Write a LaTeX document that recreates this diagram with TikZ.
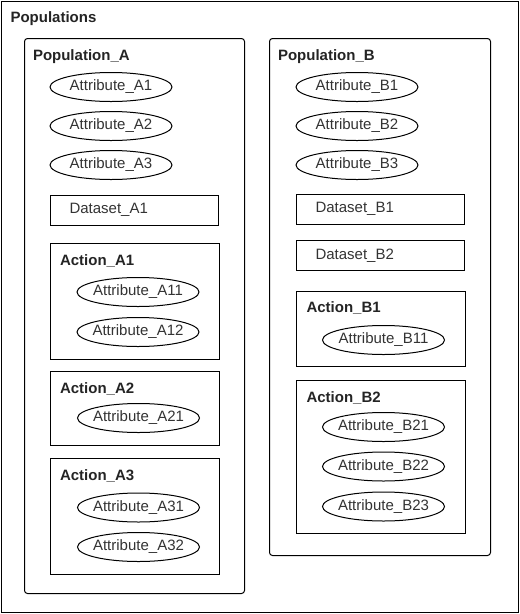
\documentclass[tikz,border=0pt]{standalone}
\usepackage{fontspec}
\setmainfont{Liberation Sans}
\usetikzlibrary{shapes.geometric, positioning}

\definecolor{txtgray}{HTML}{333333}

\begin{document}
\begin{tikzpicture}[x=1pt,y=-1pt,line width=1pt,
  font=\fontsize{15}{18}\selectfont,
  frame/.style={draw, anchor=north west, inner sep=0pt},
  group/.style={frame, rounded corners=3pt},
  actionbox/.style={frame, minimum width=169pt},
  title/.style={anchor=base west, inner sep=0pt, text=txtgray!70!black, font=\fontsize{15}{18}\selectfont\bfseries},
  attr/.style={draw, ellipse, minimum width=122pt, minimum height=29pt, inner xsep=-12pt, inner ysep=0pt, text=txtgray},
  dataset/.style={frame, minimum height=30pt, inner xsep=19pt, text width=130pt, align=left, text=txtgray}]
\useasboundingbox (0,0) rectangle (520,614);

% outer frame
\node[frame, minimum width=517pt, minimum height=611pt] (pops) at (1,1) {};
\node[title] (popsT) at (10,22.5) {Populations};

% Population A
\node[group, minimum width=220pt, minimum height=555pt] (popA) at (24,38) {};
\node[title] (popAT) at (32.5,60) {Population\_A};
\foreach \i/\y in {1/87,2/126,3/165}
  \node[attr] (attrA\i) at (111,\y) {Attribute\_A\i};
\node[dataset, minimum width=168pt] (dsA1) at (50,194.5) {Dataset\_A1};

\node[actionbox, minimum height=115.5pt] (actA1) at (50,243) {};
\node[title] (actA1T) at (59.5,265) {Action\_A1};
\node[attr] (attrA11) at (138,292) {Attribute\_A11};
\node[attr] (attrA12) at (138,332) {Attribute\_A12};

\node[actionbox, minimum height=74pt] (actA2) at (50,371) {};
\node[title] (actA2T) at (59.5,393) {Action\_A2};
\node[attr] (attrA21) at (138.5,418) {Attribute\_A21};

\node[actionbox, minimum height=116pt] (actA3) at (50,458) {};
\node[title] (actA3T) at (59.5,480) {Action\_A3};
\node[attr] (attrA31) at (138.5,507.5) {Attribute\_A31};
\node[attr] (attrA32) at (138.5,547) {Attribute\_A32};

% Population B
\node[group, minimum width=221pt, minimum height=517pt] (popB) at (269,38) {};
\node[title] (popBT) at (277.5,60) {Population\_B};
\foreach \i/\y in {1/87,2/126,3/165}
  \node[attr] (attrB\i) at (357,\y) {Attribute\_B\i};
\node[dataset, minimum width=167pt] (dsB1) at (296,193.5) {Dataset\_B1};
\node[dataset, minimum width=167pt] (dsB2) at (296,240) {Dataset\_B2};

\node[actionbox, minimum height=75pt] (actB1) at (296,291) {};
\node[title] (actB1T) at (306,312.5) {Action\_B1};
\node[attr] (attrB11) at (383.5,340) {Attribute\_B11};

\node[actionbox, minimum height=153pt] (actB2) at (296,380) {};
\node[title] (actB2T) at (306,402) {Action\_B2};
\foreach \i/\y in {1/427,2/466.5,3/506.5}
  \node[attr] (attrB2\i) at (383.5,\y) {Attribute\_B2\i};
\end{tikzpicture}
\end{document}
